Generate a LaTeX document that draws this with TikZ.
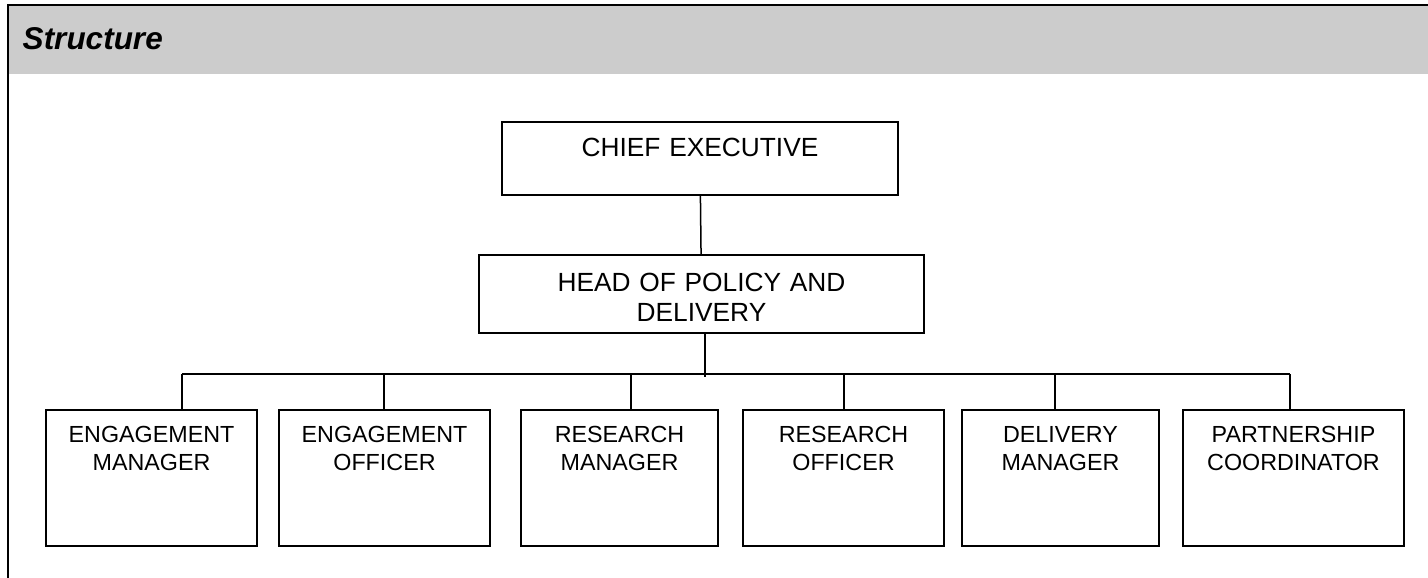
\documentclass[tikz,border=0pt]{standalone}
\usepackage{fontspec}
\setmainfont{Liberation Sans}
\usepackage{xcolor}
\usetikzlibrary{positioning}

\definecolor{headgray}{gray}{0.8}

\begin{document}
\begin{tikzpicture}[
      x=1pt, y=-1pt,
      line width=1.5pt,
      lead/.style={
        rectangle, draw, inner sep=0pt, outer sep=0pt, align=center,
        font=\fontsize{26.3}{30}\selectfont
      },
      post/.style={
        rectangle, draw, inner sep=0pt, outer sep=0pt, align=center,
        text height=32pt, text depth=104pt,
        font=\fontsize{23.3}{28}\selectfont
      }
    ]
    \useasboundingbox (0,0) rectangle (1428,578);

    \fill[headgray] (9,6) rectangle (1428,74);
    \draw[line width=2pt] (8,578) -- (8,5) -- (1428,5);
    \node[anchor=base west, inner sep=0pt, font=\fontsize{31.5}{36}\bfseries\itshape\selectfont] (title) at (22,50) {Structure};

    \node[lead, text width=396pt, text height=34.7pt, text depth=38.3pt, anchor=north] (ce) at (700,122) {CHIEF EXECUTIVE};
    \node[lead, text width=445pt, text height=36.3pt, text depth=41.7pt, below=60pt of ce, xshift=1.5pt] (hopd) {HEAD OF POLICY AND\\DELIVERY};

    \node[post, text width=211pt, anchor=north west] (em) at (46,410) {ENGAGEMENT\\MANAGER};
    \node[post, text width=211pt, right=22pt of em] (eo) {ENGAGEMENT\\OFFICER};
    \node[post, text width=197pt, right=31pt of eo] (rm) {RESEARCH\\MANAGER};
    \node[post, text width=201pt, right=25pt of rm] (ro) {RESEARCH\\OFFICER};
    \node[post, text width=197pt, right=18pt of ro] (dm) {DELIVERY\\MANAGER};
    \node[post, text width=221pt, right=24pt of dm] (pc) {PARTNERSHIP\\COORDINATOR};

    \draw (ce) -- (hopd);

    \foreach \n/\x in {em/182, eo/384, rm/631, ro/844, dm/1055, pc/1290} {
      \coordinate (t\n) at (\x,374);
      \draw (t\n) -- (t\n |- \n.north);
    }
    \draw (tem) -- (tpc);
    \coordinate (hub) at (705,377);
    \draw (hub |- hopd.south) -- (hub);
  \end{tikzpicture}
\end{document}
